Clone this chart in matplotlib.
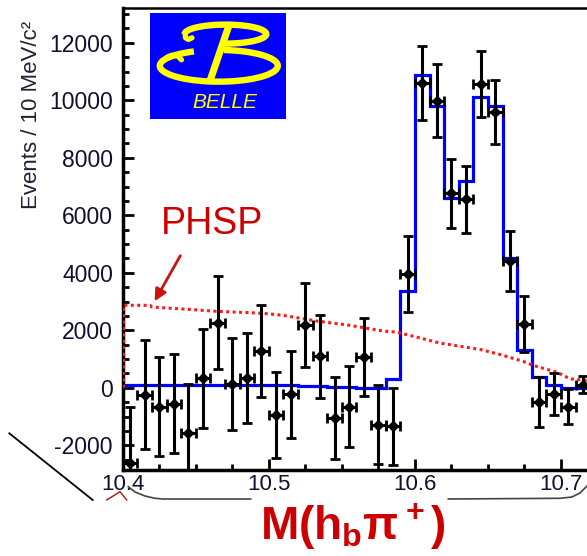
import matplotlib
matplotlib.use('Agg')
import matplotlib.pyplot as plt
from matplotlib.patches import Rectangle, Arc
from matplotlib.lines import Line2D
from matplotlib.ticker import MultipleLocator, FixedLocator

plt.rcParams['font.family'] = ['Liberation Sans', 'DejaVu Sans']
plt.rcParams['axes.unicode_minus'] = False
plt.rcParams['mathtext.fontset'] = 'custom'
plt.rcParams['mathtext.rm'] = 'Liberation Sans:bold'
plt.rcParams['mathtext.it'] = 'Liberation Sans:bold'
plt.rcParams['mathtext.bf'] = 'Liberation Sans:bold'

# ---------------- data ----------------
mass = [10.405, 10.415, 10.425, 10.435, 10.445, 10.455, 10.465, 10.475,
        10.485, 10.495, 10.505, 10.515, 10.525, 10.535, 10.545, 10.555,
        10.565, 10.575, 10.585, 10.595, 10.605, 10.615, 10.625, 10.635,
        10.645, 10.655, 10.665, 10.675, 10.685, 10.695, 10.705, 10.715]
events = [-2610, -244, -652, -558, -1581, 335, 2265, 139,
          348, 1275, -941, -233, 2195, 1091, -1059, -652,
          1066, -1279, -1338, 3972, 10592, 9986, 6760, 6551,
          10557, 9603, 4411, 2206, -502, -209, -652, 104]
errors = [1940, 1900, 1720, 1720, 1700, 1720, 1620, 1600,
          1570, 1590, 1500, 1500, 1460, 1450, 1430, 1394,
          1360, 1360, 1338, 1320, 1290, 1260, 1200, 1180,
          1155, 1110, 1045, 970, 870, 735, 610, 300]
bin_half_width = 0.005

fit_edges = [10.40, 10.41, 10.42, 10.43, 10.44, 10.45, 10.46, 10.47, 10.48,
             10.49, 10.50, 10.51, 10.52, 10.53, 10.54, 10.55, 10.56, 10.57,
             10.58, 10.59, 10.60, 10.61, 10.62, 10.63, 10.64, 10.65, 10.66,
             10.67, 10.68, 10.69, 10.70, 10.71, 10.72]
fit_values = [110, 110, 110, 108, 106, 104, 102, 100, 98, 96, 94,
              80, 60, 45, 30, 15, 0, -15,
              290, 3380, 10880, 9800, 6600, 7200, 10120, 9800,
              4530, 1300, 370, 104, 0, 0]

phsp_x = [10.4005, 10.4005, 10.4187, 10.4200, 10.4481, 10.4643, 10.4871,
          10.4986, 10.5099, 10.5328, 10.5556, 10.5784, 10.5875, 10.6012,
          10.6172, 10.6445, 10.6582, 10.6742, 10.6810, 10.6971, 10.7062,
          10.7180]
phsp_y = [0, 2870, 2868, 2808, 2718, 2659, 2613, 2578, 2519, 2321, 2171,
          1972, 1937, 1763, 1554, 1334, 1160, 916, 777, 544, 310, 254]

xticks = [10.4, 10.5, 10.6, 10.7]
xticklabels = ['10.4', '10.5', '10.6', '10.7']
yticks = [-2000, 0, 2000, 4000, 6000, 8000, 10000, 12000]
yticklabels = ['-2000', '0', '2000', '4000', '6000', '8000', '10000', '12000']

# ---------------- figure ----------------
W, H = 587, 556
fig = plt.figure(figsize=(W / 100, H / 100), dpi=100)
ax = fig.add_axes([122.7 / W, 1 - 470 / H, (W - 122.7) / W, (470 - 8.3) / H])

ax.stairs(fit_values, fit_edges, color='#0000ff', lw=2.3, baseline=None, zorder=2)
ax.plot(phsp_x, phsp_y, color='#ff1a1a', lw=2.2, ls=(0, (1, 1.1)),
        dash_capstyle='butt', zorder=3)
ax.errorbar(mass, events, yerr=errors, xerr=bin_half_width, fmt='D',
            color='black', ms=5, elinewidth=2.2, capsize=3.5, capthick=2,
            zorder=4)

ax.set_xlim(10.4, 10.7178)
ax.set_ylim(-2860, 13200)

ax.xaxis.set_major_locator(FixedLocator(xticks))
ax.set_xticklabels(xticklabels)
ax.xaxis.set_minor_locator(MultipleLocator(0.025))
ax.yaxis.set_major_locator(FixedLocator(yticks))
ax.set_yticklabels(yticklabels)
ax.yaxis.set_minor_locator(MultipleLocator(500))

ax.tick_params(which='both', direction='in', top=False, right=False,
               width=2, color='black', labelcolor='#101030')
ax.tick_params(which='major', length=8)
ax.tick_params(which='minor', length=4.5)
ax.tick_params(axis='y', which='major', labelsize=16.5, pad=7)
ax.tick_params(axis='x', which='major', labelsize=16, pad=3)

ax.spines['right'].set_visible(False)
for s in ['left', 'bottom']:
    ax.spines[s].set_linewidth(2.5)
ax.spines['top'].set_linewidth(1.8)

# PHSP label and arrow
ax.annotate('', xy=(10.4209, 2927), xytext=(10.4404, 4679),
            arrowprops=dict(arrowstyle='-|>,head_length=0.7,head_width=0.35',
                            color='#cc1111', lw=2), zorder=5)
ax.text(10.4611, 5700, 'PHSP', color='#cc0000', fontsize=27,
        ha='center', va='center')

# y label
fig.text(32 / W, 1 - 115 / H, 'Events / 10 MeV/c²', rotation=90,
         ha='center', va='center', fontsize=16, color='#202030')

# x label
fig.text(353 / W, 1 - 526 / H, r'$M(h_bπ^+)$', color='#cc0000',
         fontsize=33, ha='center', va='center')

# ---------------- Belle logo ----------------
lg = fig.add_axes([150 / W, 1 - 119.3 / H, 136 / W, 106 / H])
lg.set_xlim(0, 136)
lg.set_ylim(0, 106)
lg.axis('off')
lg.add_patch(Rectangle((0, 0), 136, 106, color='#0000ff'))
yel = '#ffff00'
lw_b = 4.6
lg.add_patch(Arc((75.5, 85.2), 81.6, 19, theta1=-95, theta2=180, color=yel, lw=lw_b))
lg.add_patch(Arc((68.8, 53.5), 118, 31.7, theta1=150, theta2=72, color=yel, lw=lw_b))
lg.add_line(Line2D([79.7, 59.7], [96, 37.6], color=yel, lw=lw_b + 0.5,
                   solid_capstyle='butt'))
lg.add_line(Line2D([35.2, 35.5, 38.5, 42], [86, 81.5, 79.8, 81.5], color=yel,
                   lw=3.8, solid_joinstyle='round', solid_capstyle='round'))
lg.add_line(Line2D([17.0, 21.5, 27.5, 31.5], [62, 64, 63.5, 59.5], color=yel,
                   lw=3.8, solid_joinstyle='round', solid_capstyle='round'))
lg.text(74.7, 16.8, 'BELLE', color=yel, fontsize=15, style='italic',
        ha='center', va='center')

# ---------------- slide decorations ----------------
def px(xs, ys):
    return [x / W for x in xs], [1 - y / H for y in ys]

xs, ys = px([9.3, 92.7], [433.3, 500])
fig.add_artist(Line2D(xs, ys, color='black', lw=1.3))
xs, ys = px([106.7, 120, 126.7], [500, 491.7, 500])
fig.add_artist(Line2D(xs, ys, color='#aa1111', lw=1.0))
xs, ys = px([128.3, 135, 145, 155, 163.3, 250.7], [486.7, 492, 496, 498.3, 499, 499])
fig.add_artist(Line2D(xs, ys, color='#444444', lw=1.2))
xs, ys = px([448.3, 560, 572, 580, 587], [499, 498.3, 497, 493, 486])
fig.add_artist(Line2D(xs, ys, color='#444444', lw=1.2))

fig.savefig('out.png', dpi=100)
